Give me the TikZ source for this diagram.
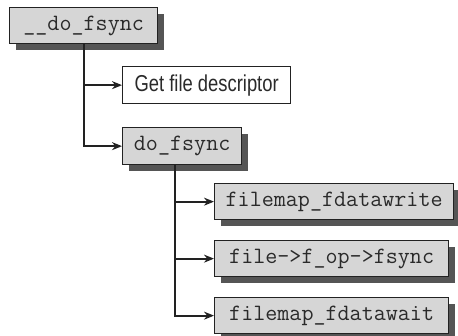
\documentclass[tikz,border=0pt]{standalone}
\usepackage{fontspec}
\newfontfamily\narrowsans[FakeStretch=0.8]{Liberation Sans}
\usetikzlibrary{arrows.meta,shadows}
\definecolor{boxgray}{HTML}{D6D6D6}
\definecolor{shadowgray}{HTML}{555555}
\definecolor{linec}{HTML}{222222}
\definecolor{textc}{HTML}{2A2A2A}
\begin{document}
\begin{tikzpicture}[x=1pt,y=-1pt,
  basebox/.style={draw=linec, line width=1.3pt, minimum height=36pt, inner xsep=0pt, inner ysep=0pt, anchor=north west, text=textc},
  codebox/.style={basebox, fill=boxgray, font=\ttfamily\fontsize{23.4}{26}\selectfont,
    drop shadow={shadow xshift=6pt, shadow yshift=-6pt, fill=shadowgray, opacity=1}},
  plainbox/.style={basebox, fill=white, font=\narrowsans\fontsize{23}{26}\selectfont},
  conn/.style={draw=linec, line width=2pt, -{Stealth[length=10pt,width=8pt]}}]
\useasboundingbox (0,0) rectangle (458,336);
\node[codebox, minimum width=148pt] (A) at (9,7) {\_\_do\_fsync};
\node[plainbox, minimum width=168pt, minimum height=37pt] (B) at (122,66) {Get file descriptor};
\node[codebox, minimum width=119pt, minimum height=37pt] (C) at (122,127) {do\_fsync};
\node[codebox, minimum width=239pt] (D) at (214,183) {filemap\_fdatawrite};
\node[codebox, minimum width=234pt] (E) at (214,240) {file->f\_op->fsync};
\node[codebox, minimum width=234pt] (F) at (214,297) {filemap\_fdatawait};
\draw[conn] (A.south) |- (B.west);
\draw[conn] (A.south) |- (C.west);
\coordinate (cd) at ([xshift=53pt]C.south west);
\draw[conn] (cd) |- (D.west);
\draw[conn] (cd) |- (E.west);
\draw[conn] (cd) |- (F.west);
\end{tikzpicture}
\end{document}
